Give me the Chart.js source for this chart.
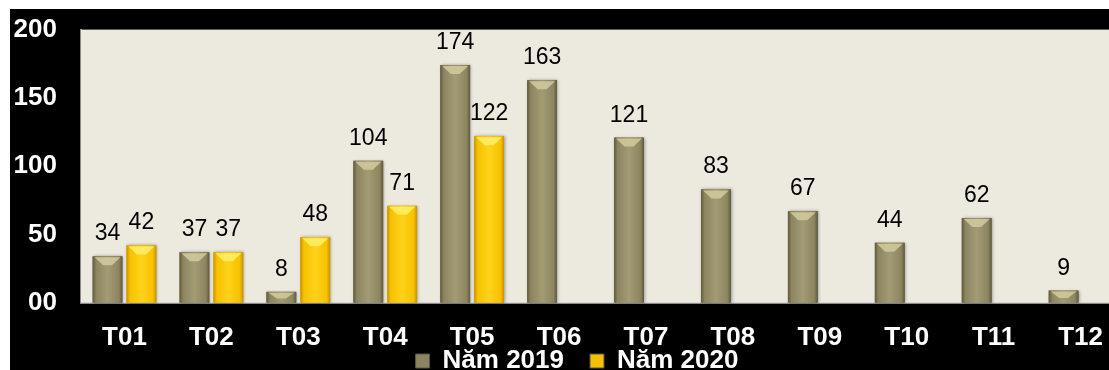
<!DOCTYPE html>
<html>
<head>
  <meta charset="UTF-8">
  <title>Năm 2019 - Năm 2020</title>
  <script src="https://cdn.jsdelivr.net/npm/chart.js"></script>
  <style>
    body {
      margin: 0;
      background: #fff;
      overflow: hidden;
      font-family: "Liberation Sans", Arial, sans-serif;
    }
    #wrap {
      position: absolute;
      left: 10px;
      top: 9px;
      width: 1140px;
      height: 361px;
      background: #000;
      overflow: hidden;
    }
    #box {
      position: absolute;
      left: 0;
      top: -19px;
      width: 1134px;
      height: 444px;
    }
  </style>
</head>
<body>
  <div id="wrap"><div id="box"><canvas id="myChart"></canvas></div></div>

  <script>
    const categories = ['T01', 'T02', 'T03', 'T04', 'T05', 'T06', 'T07', 'T08', 'T09', 'T10', 'T11', 'T12'];
    const values2019 = [34, 37, 8, 104, 174, 163, 121, 83, 67, 44, 62, 9];
    const values2020 = [42, 37, 48, 71, 122, null, null, null, null, null, null, null];
    const seriesNames = ['Năm 2019', 'Năm 2020'];
    const yMax = 200;
    const yStep = 50;

    const FONT = '"Liberation Sans", Arial, sans-serif';
    // dark edge, body, light middle, bevel top
    const shades = [
      { edge: '#5f5a3c', body: '#8c8560', mid: '#a39b74', top: '#d2cb9c', legend: '#8c8560' },
      { edge: '#c99300', body: '#f7c200', mid: '#ffd21a', top: '#fff06a', legend: '#f5c000' }
    ];

    const plotBg = {
      id: 'plotBg',
      beforeDatasetsDraw(chart) {
        const a = chart.chartArea, ctx = chart.ctx;
        ctx.save();
        ctx.fillStyle = '#ece9df';
        ctx.fillRect(a.left, a.top, a.right - a.left, a.bottom - a.top);
        ctx.restore();
      }
    };

    // pull the legend up under the month labels, like the original
    const legendNudge = {
      id: 'legendNudge',
      afterLayout(chart) {
        const lg = chart.legend;
        if (!lg) return;
        lg.top -= 50; lg.bottom -= 50;
        lg.left += 10; lg.right += 10;
      }
    };

    // shading on top of the bars the library laid out
    const barLook = {
      id: 'barLook',
      afterDatasetDraw(chart, args) {
        const ctx = chart.ctx;
        const s = shades[args.index];
        args.meta.data.forEach((bar, i) => {
          if (chart.data.datasets[args.index].data[i] == null) return;
          const p = bar.getProps(['x', 'y', 'base', 'width'], true);
          const l = p.x - p.width / 2, w = p.width, h = p.base - p.y;
          ctx.save();
          ctx.shadowColor = 'rgba(0,0,0,0.35)';
          ctx.shadowBlur = 3;
          ctx.shadowOffsetX = 1;
          const g = ctx.createLinearGradient(l, 0, l + w, 0);
          g.addColorStop(0, s.edge);
          g.addColorStop(0.12, s.body);
          g.addColorStop(0.5, s.mid);
          g.addColorStop(0.88, s.body);
          g.addColorStop(1, s.edge);
          ctx.fillStyle = g;
          ctx.fillRect(l, p.y, w, h);
          ctx.restore();
          const bh = Math.min(9, h * 0.6);
          ctx.save();
          ctx.fillStyle = s.top;
          ctx.globalAlpha = 0.85;
          ctx.beginPath();
          ctx.moveTo(l + 2, p.y + 1);
          ctx.lineTo(l + w - 2, p.y + 1);
          ctx.lineTo(l + w * 0.65, p.y + bh);
          ctx.lineTo(l + w * 0.35, p.y + bh);
          ctx.closePath();
          ctx.fill();
          ctx.restore();
        });
      }
    };

    const valueLabels = {
      id: 'valueLabels',
      afterDatasetsDraw(chart) {
        const ctx = chart.ctx;
        ctx.save();
        ctx.fillStyle = '#000';
        ctx.font = '23px ' + FONT;
        ctx.textAlign = 'center';
        ctx.textBaseline = 'alphabetic';
        chart.data.datasets.forEach((ds, di) => {
          chart.getDatasetMeta(di).data.forEach((bar, i) => {
            if (ds.data[i] == null) return;
            ctx.fillText(ds.data[i], bar.x, bar.y - 16);
          });
        });
        ctx.restore();
      }
    };

    new Chart(document.getElementById('myChart'), {
      type: 'bar',
      data: {
        labels: categories,
        datasets: [
          { label: seriesNames[0], data: values2019, backgroundColor: shades[0].body },
          { label: seriesNames[1], data: values2020, backgroundColor: shades[1].body }
        ]
      },
      options: {
        responsive: true,
        maintainAspectRatio: false,
        animation: false,
        categoryPercentage: 0.78,
        barPercentage: 0.88,
        layout: { padding: { top: 8, right: 20, left: 0, bottom: 0 } },
        scales: {
          x: {
            grid: { display: false, drawTicks: false },
            border: { display: true, color: '#8a8a8a', width: 2 },
            ticks: { color: '#fff', font: { family: FONT, size: 26, weight: 'bold' }, padding: 19 }
          },
          y: {
            min: 0,
            max: yMax,
            grid: { display: false, drawTicks: false },
            border: { display: true, color: '#8a8a8a', width: 2 },
            afterFit(scale) { scale.width = 71; },
            ticks: {
              stepSize: yStep,
              color: '#fff',
              padding: 24,
              font: { family: FONT, size: 26, weight: 'bold' },
              callback: v => v === 0 ? '00' : v
            }
          }
        },
        plugins: {
          legend: {
            position: 'bottom',
            labels: {
              color: '#fff',
              font: { family: FONT, size: 26, weight: 'bold' },
              boxWidth: 14,
              boxHeight: 14,
              padding: 26,
              generateLabels(chart) {
                return Chart.defaults.plugins.legend.labels.generateLabels(chart).map((it, i) => {
                  it.fillStyle = shades[i].legend;
                  it.strokeStyle = '#555';
                  it.lineWidth = 1;
                  return it;
                });
              }
            }
          },
          tooltip: { enabled: false }
        }
      },
      plugins: [plotBg, legendNudge, barLook, valueLabels]
    });
  </script>
</body>
</html>
